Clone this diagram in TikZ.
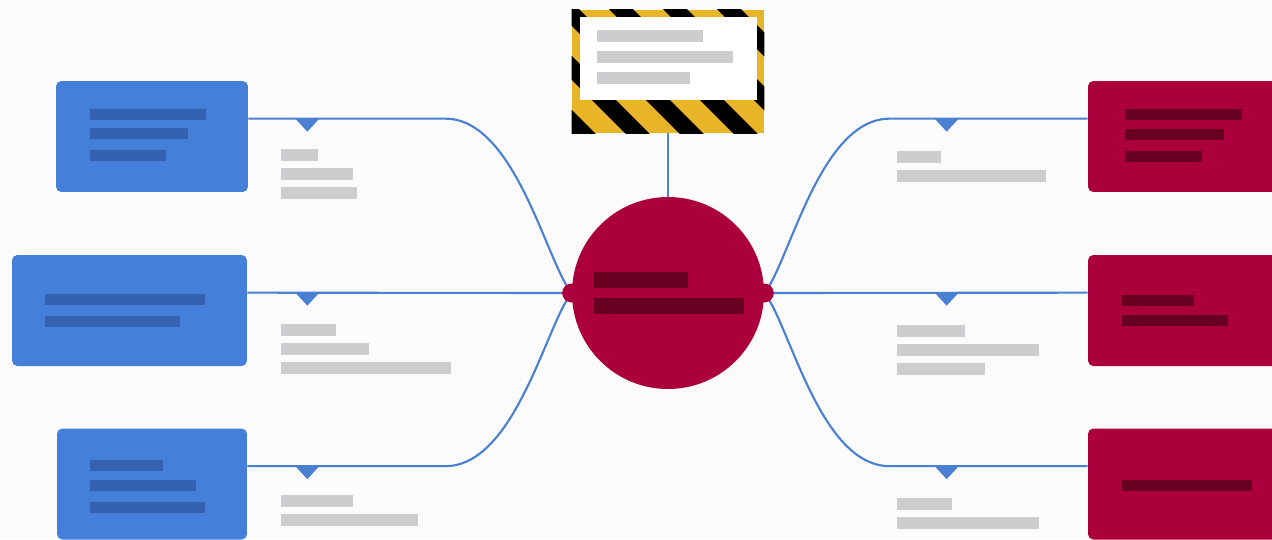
\documentclass[tikz,border=0pt]{standalone}
\usetikzlibrary{positioning,calc}
\definecolor{bg}{RGB}{251,251,251}
\definecolor{boxblue}{RGB}{68,128,218}
\definecolor{barblue}{RGB}{52,97,176}
\definecolor{boxred}{RGB}{172,0,60}
\definecolor{barred}{RGB}{104,0,34}
\definecolor{linkblue}{RGB}{74,128,210}
\definecolor{stub}{RGB}{205,204,207}
\definecolor{hazard}{RGB}{232,180,40}
\tikzstyle{bluebox}=[fill=boxblue,rounded corners=3pt,minimum height=2.22cm,inner sep=0pt]
\tikzstyle{redbox}=[fill=boxred,rounded corners=3pt,minimum width=3.84cm,minimum height=2.22cm,inner sep=0pt]
\tikzstyle{link}=[draw=linkblue,line width=1.2pt]
\tikzstyle{hub}=[fill=boxred,circle,minimum size=3.84cm,inner sep=0pt]
\tikzstyle{knob}=[fill=boxred,circle,minimum size=0.38cm,inner sep=0pt]
\tikzstyle{signbox}=[fill=hazard,minimum width=3.84cm,minimum height=2.46cm,inner sep=0pt]
\tikzset{tri/.pic={\fill[linkblue] (-12,0) -- (12,0) -- (0,13) -- cycle;}}

\begin{document}
\begin{tikzpicture}[x=0.02cm,y=-0.02cm]
\clip (0,0) rectangle (1272,539);
\fill[bg] (0,0) rectangle (1272,539);

\node[bluebox,minimum width=3.84cm] (lb1) at (152,136.5) {};
\node[bluebox,minimum width=4.7cm] (lb2) at (129.5,310.5) {};
\node[bluebox,minimum width=3.8cm] (lb3) at (152,484) {};
\node[redbox] (rb1) at (1184,136.5) {};
\node[redbox] (rb2) at (1184,310.5) {};
\node[redbox] (rb3) at (1184,484) {};
\node[hub] (hub) at (668,293) {};
\node[signbox] (sign) at (668,71.5) {};

\begin{scope}
\clip (sign.north west) rectangle (sign.south east);
\foreach \s in {438,492,...,762}
  \fill (\s,0) -- ++(24,0) -- ++(150,150) -- ++(-24,0) -- cycle;
\end{scope}
\node[fill=white,minimum width=3.54cm,minimum height=1.66cm,inner sep=0pt] (note) at (668.5,58.5) {};

\draw[link] ([yshift=-0.76cm]lb1.north east) -- ++(197,0) .. controls +(70,0) and +(-25,-30) .. (hub.west);
\draw[link] ([yshift=-0.76cm]lb2.north east) -- (hub.west);
\draw[link] ([yshift=-0.76cm]lb3.north east) -- ++(198,0) .. controls +(70,0) and +(-25,30) .. (hub.west);
\draw[link] ([yshift=-0.76cm]rb1.north west) -- ++(-198,0) .. controls +(-70,0) and +(25,-30) .. (hub.east);
\draw[link] ([yshift=-0.76cm]rb2.north west) -- (hub.east);
\draw[link] ([yshift=-0.76cm]rb3.north west) -- ++(-198,0) .. controls +(-70,0) and +(25,30) .. (hub.east);
\draw[link] (sign.south) -- (hub.north);

\node[knob] (knobL) at (hub.west) {};
\node[knob] (knobR) at (hub.east) {};

\pic at ($(lb1.north east)+(59,38)$) {tri};
\pic at ($(lb2.north east)+(60,38)$) {tri};
\pic at ($(lb3.north east)+(60,38)$) {tri};
\pic at ($(rb1.north west)+(-141,38)$) {tri};
\pic at ($(rb2.north west)+(-141,38)$) {tri};
\pic at ($(rb3.north west)+(-141,38)$) {tri};

\foreach \x/\y/\w in {90/109/116,90/128/98,90/150/76,45/294/160,45/316/135,90/460/73,90/480/106,90/502/115}
  \fill[barblue] (\x,\y) rectangle ++(\w,11);
\foreach \x/\y/\w in {1125/109/117,1125/129/99,1125/151/77,1122/295/72,1122/315/106,1122/480/130}
  \fill[barred] (\x,\y) rectangle ++(\w,11);
\fill[barred] (594,272) rectangle (688,288);
\fill[barred] (594,298) rectangle (744,314);
\foreach \x/\y/\w in {281/149/37,281/168/72,281/187/76,281/324/55,281/343/88,281/362/170,281/495/72,281/514/137,
  897/151/44,897/170/149,897/325/68,897/344/142,897/363/88,897/498/55,897/517/142,
  597/30/106,597/51/136,597/72/93}
  \fill[stub] (\x,\y) rectangle ++(\w,12);
\end{tikzpicture}
\end{document}
